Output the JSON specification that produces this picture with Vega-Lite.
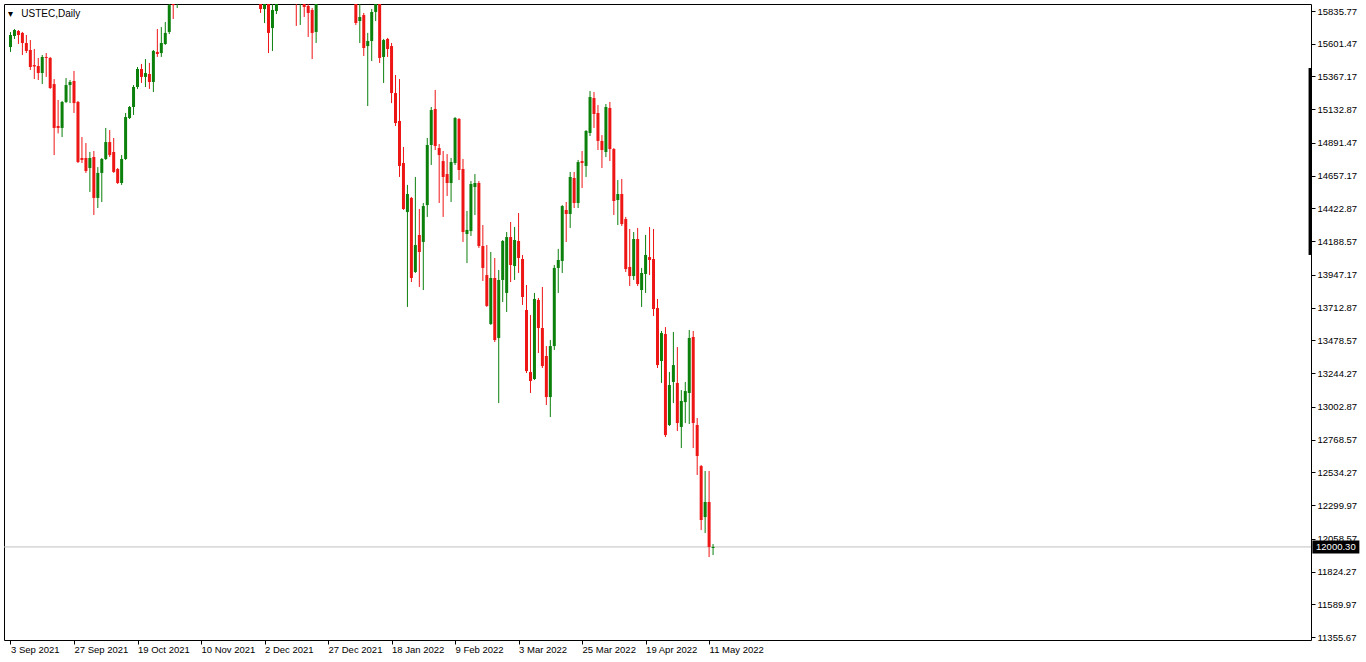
{
"$schema": "https://vega.github.io/schema/vega-lite/v6.json",
"width": 1307, "height": 636,
"autosize": {"type": "none"},
"padding": {"left": 4, "top": 4, "right": 55, "bottom": 22},
"background": "#ffffff",
"title": {"text": "▾\u00a0\u00a0 USTEC,Daily", "anchor": "start", "frame": "group", "offset": -15, "dx": 4, "font": "Liberation Sans", "fontSize": 10, "fontWeight": "normal", "color": "#000000"},
"config": {"view": {"stroke": "#000000", "strokeWidth": 1}, "font": "Liberation Sans", "axis": {"labelOverlap": false, "labelFlush": false, "labelBound": false}},
"datasets": {
"candles": [
{"i":0,"o":15578,"h":15685,"l":15543,"c":15664},
{"i":1,"o":15657,"h":15707,"l":15636,"c":15700},
{"i":2,"o":15693,"h":15700,"l":15600,"c":15664},
{"i":3,"o":15679,"h":15686,"l":15521,"c":15607},
{"i":4,"o":15607,"h":15664,"l":15535,"c":15550},
{"i":5,"o":15557,"h":15628,"l":15414,"c":15435},
{"i":6,"o":15449,"h":15564,"l":15349,"c":15439},
{"i":7,"o":15442,"h":15500,"l":15342,"c":15392},
{"i":8,"o":15392,"h":15521,"l":15313,"c":15507},
{"i":9,"o":15507,"h":15535,"l":15364,"c":15500},
{"i":10,"o":15500,"h":15507,"l":15278,"c":15285},
{"i":11,"o":15313,"h":15349,"l":14805,"c":14999},
{"i":12,"o":15013,"h":15199,"l":14960,"c":14999},
{"i":13,"o":14999,"h":15192,"l":14934,"c":15185},
{"i":14,"o":15185,"h":15356,"l":15177,"c":15306},
{"i":15,"o":15306,"h":15342,"l":15177,"c":15328},
{"i":16,"o":15335,"h":15407,"l":15106,"c":15177},
{"i":17,"o":15185,"h":15192,"l":14748,"c":14755},
{"i":18,"o":14784,"h":14934,"l":14748,"c":14770},
{"i":19,"o":14784,"h":14891,"l":14677,"c":14691},
{"i":20,"o":14712,"h":14827,"l":14541,"c":14784},
{"i":21,"o":14791,"h":14834,"l":14376,"c":14498},
{"i":22,"o":14498,"h":14719,"l":14426,"c":14677},
{"i":23,"o":14677,"h":14784,"l":14469,"c":14777},
{"i":24,"o":14777,"h":14999,"l":14770,"c":14898},
{"i":25,"o":14898,"h":14984,"l":14791,"c":14805},
{"i":26,"o":14827,"h":14927,"l":14677,"c":14684},
{"i":27,"o":14705,"h":14712,"l":14598,"c":14605},
{"i":28,"o":14605,"h":14805,"l":14591,"c":14777},
{"i":29,"o":14777,"h":15106,"l":14770,"c":15077},
{"i":30,"o":15070,"h":15156,"l":15063,"c":15149},
{"i":31,"o":15149,"h":15306,"l":15092,"c":15292},
{"i":32,"o":15292,"h":15435,"l":15278,"c":15421},
{"i":33,"o":15421,"h":15457,"l":15321,"c":15364},
{"i":34,"o":15364,"h":15492,"l":15292,"c":15392},
{"i":35,"o":15385,"h":15464,"l":15278,"c":15328},
{"i":36,"o":15328,"h":15557,"l":15256,"c":15550},
{"i":37,"o":15543,"h":15707,"l":15507,"c":15528},
{"i":38,"o":15535,"h":15721,"l":15507,"c":15607},
{"i":39,"o":15600,"h":15757,"l":15593,"c":15679},
{"i":40,"o":15686,"h":15905,"l":15671,"c":15878},
{"i":41,"o":15960,"h":16010,"l":15779,"c":15878},
{"i":42,"o":15900,"h":16040,"l":15857,"c":16010},
{"i":43,"o":16010,"h":16170,"l":15990,"c":16150},
{"i":44,"o":16150,"h":16340,"l":16120,"c":16320},
{"i":45,"o":16320,"h":16420,"l":16260,"c":16350},
{"i":46,"o":16350,"h":16400,"l":16260,"c":16330},
{"i":47,"o":16330,"h":16380,"l":16160,"c":16210},
{"i":48,"o":16210,"h":16250,"l":15940,"c":15990},
{"i":49,"o":15990,"h":16110,"l":15960,"c":16080},
{"i":50,"o":16080,"h":16270,"l":16060,"c":16250},
{"i":51,"o":16250,"h":16300,"l":16200,"c":16260},
{"i":52,"o":16260,"h":16420,"l":16240,"c":16380},
{"i":53,"o":16380,"h":16440,"l":16340,"c":16370},
{"i":54,"o":16370,"h":16590,"l":16350,"c":16560},
{"i":55,"o":16560,"h":16640,"l":16520,"c":16580},
{"i":56,"o":16580,"h":16760,"l":16350,"c":16380},
{"i":57,"o":16380,"h":16420,"l":16140,"c":16300},
{"i":58,"o":16300,"h":16400,"l":16220,"c":16380},
{"i":59,"o":16380,"h":16440,"l":16360,"c":16420},
{"i":60,"o":16420,"h":16430,"l":15990,"c":16040},
{"i":61,"o":16040,"h":16420,"l":16020,"c":16390},
{"i":62,"o":16390,"h":16470,"l":16060,"c":16140},
{"i":63,"o":16250,"h":16370,"l":15822,"c":15850},
{"i":64,"o":15850,"h":16060,"l":15750,"c":16000},
{"i":65,"o":16010,"h":16070,"l":15535,"c":15679},
{"i":66,"o":15714,"h":15900,"l":15550,"c":15843},
{"i":67,"o":15836,"h":16320,"l":15814,"c":16300},
{"i":68,"o":16300,"h":16390,"l":16260,"c":16360},
{"i":69,"o":16360,"h":16380,"l":16060,"c":16080},
{"i":70,"o":16080,"h":16310,"l":16050,"c":16290},
{"i":71,"o":16290,"h":16330,"l":16120,"c":16150},
{"i":72,"o":16150,"h":16170,"l":15729,"c":15950},
{"i":73,"o":15950,"h":16330,"l":15736,"c":16300},
{"i":74,"o":16300,"h":16370,"l":15793,"c":15865},
{"i":75,"o":15872,"h":15950,"l":15650,"c":15822},
{"i":76,"o":15843,"h":15857,"l":15492,"c":15679},
{"i":77,"o":15686,"h":15990,"l":15607,"c":15960},
{"i":78,"o":15960,"h":16150,"l":15920,"c":16130},
{"i":79,"o":16130,"h":16260,"l":16100,"c":16220},
{"i":80,"o":16220,"h":16520,"l":16200,"c":16500},
{"i":81,"o":16500,"h":16580,"l":16400,"c":16440},
{"i":82,"o":16440,"h":16500,"l":16360,"c":16420},
{"i":83,"o":16420,"h":16500,"l":16340,"c":16380},
{"i":84,"o":16380,"h":16410,"l":16300,"c":16320},
{"i":85,"o":16320,"h":16520,"l":16280,"c":16500},
{"i":86,"o":16500,"h":16590,"l":16150,"c":16280},
{"i":87,"o":16280,"h":16310,"l":15736,"c":15750},
{"i":88,"o":15764,"h":15950,"l":15607,"c":15793},
{"i":89,"o":15807,"h":15822,"l":15514,"c":15571},
{"i":90,"o":15585,"h":15679,"l":15156,"c":15621},
{"i":91,"o":15621,"h":15850,"l":15478,"c":15829},
{"i":92,"o":15829,"h":15980,"l":15764,"c":15930},
{"i":93,"o":15960,"h":16000,"l":15464,"c":15500},
{"i":94,"o":15507,"h":15636,"l":15321,"c":15628},
{"i":95,"o":15636,"h":15643,"l":15507,"c":15564},
{"i":96,"o":15585,"h":15607,"l":15177,"c":15249},
{"i":97,"o":15249,"h":15378,"l":15013,"c":15034},
{"i":98,"o":15049,"h":15349,"l":14648,"c":14727},
{"i":99,"o":14748,"h":14863,"l":14412,"c":14419},
{"i":100,"o":14397,"h":14591,"l":13718,"c":14526},
{"i":101,"o":14498,"h":14505,"l":13896,"c":13925},
{"i":102,"o":13968,"h":14648,"l":13961,"c":14161},
{"i":103,"o":14233,"h":14419,"l":13861,"c":14111},
{"i":104,"o":14183,"h":14462,"l":13839,"c":14440},
{"i":105,"o":14447,"h":14927,"l":14362,"c":14877},
{"i":106,"o":14877,"h":15149,"l":14734,"c":15127},
{"i":107,"o":15135,"h":15271,"l":14841,"c":14870},
{"i":108,"o":14855,"h":14884,"l":14462,"c":14805},
{"i":109,"o":14762,"h":14834,"l":14362,"c":14648},
{"i":110,"o":14669,"h":14812,"l":14512,"c":14605},
{"i":111,"o":14605,"h":14784,"l":14469,"c":14755},
{"i":112,"o":14748,"h":15077,"l":14734,"c":15070},
{"i":113,"o":15063,"h":15070,"l":14626,"c":14698},
{"i":114,"o":14705,"h":14777,"l":14183,"c":14254},
{"i":115,"o":14240,"h":14405,"l":14032,"c":14269},
{"i":116,"o":14261,"h":14619,"l":14226,"c":14598},
{"i":117,"o":14576,"h":14669,"l":14376,"c":14605},
{"i":118,"o":14605,"h":14619,"l":14140,"c":14154},
{"i":119,"o":14154,"h":14304,"l":13904,"c":13997},
{"i":120,"o":13946,"h":14161,"l":13718,"c":13725},
{"i":121,"o":13596,"h":14111,"l":13589,"c":13925},
{"i":122,"o":13925,"h":14068,"l":13467,"c":13481},
{"i":123,"o":13496,"h":13982,"l":13030,"c":13911},
{"i":124,"o":13911,"h":14197,"l":13753,"c":14190},
{"i":125,"o":13818,"h":14254,"l":13682,"c":14218},
{"i":126,"o":14218,"h":14326,"l":13896,"c":14018},
{"i":127,"o":14011,"h":14290,"l":13911,"c":14197},
{"i":128,"o":14190,"h":14390,"l":13961,"c":14068},
{"i":129,"o":14061,"h":14090,"l":13732,"c":13789},
{"i":130,"o":13696,"h":13875,"l":13245,"c":13259},
{"i":131,"o":13252,"h":13660,"l":13102,"c":13188},
{"i":132,"o":13202,"h":13818,"l":13195,"c":13775},
{"i":133,"o":13768,"h":13782,"l":13388,"c":13567},
{"i":134,"o":13567,"h":13861,"l":13281,"c":13295},
{"i":135,"o":13367,"h":13438,"l":13016,"c":13073},
{"i":136,"o":13073,"h":13481,"l":12930,"c":13438},
{"i":137,"o":13438,"h":14018,"l":13410,"c":13997},
{"i":138,"o":13997,"h":14133,"l":13818,"c":14054},
{"i":139,"o":14047,"h":14447,"l":13961,"c":14440},
{"i":140,"o":14412,"h":14469,"l":14183,"c":14383},
{"i":141,"o":14383,"h":14684,"l":14283,"c":14648},
{"i":142,"o":14641,"h":14684,"l":14426,"c":14462},
{"i":143,"o":14462,"h":14770,"l":14426,"c":14755},
{"i":144,"o":14762,"h":14834,"l":14569,"c":14748},
{"i":145,"o":14727,"h":14984,"l":14648,"c":14977},
{"i":146,"o":14963,"h":15263,"l":14941,"c":15220},
{"i":147,"o":15213,"h":15256,"l":14999,"c":15099},
{"i":148,"o":15106,"h":15163,"l":14841,"c":14906},
{"i":149,"o":14906,"h":14948,"l":14712,"c":14841},
{"i":150,"o":14827,"h":15170,"l":14791,"c":15149},
{"i":151,"o":15142,"h":15185,"l":14762,"c":14848},
{"i":152,"o":14848,"h":14855,"l":14376,"c":14476},
{"i":153,"o":14483,"h":14626,"l":14304,"c":14526},
{"i":154,"o":14526,"h":14634,"l":14297,"c":14311},
{"i":155,"o":14347,"h":14362,"l":13968,"c":13989},
{"i":156,"o":14004,"h":14276,"l":13868,"c":13939},
{"i":157,"o":13939,"h":14254,"l":13911,"c":14204},
{"i":158,"o":14204,"h":14283,"l":13868,"c":13882},
{"i":159,"o":13839,"h":13997,"l":13718,"c":13961},
{"i":160,"o":13954,"h":14233,"l":13818,"c":14090},
{"i":161,"o":14075,"h":14290,"l":13946,"c":14054},
{"i":162,"o":14061,"h":14276,"l":13653,"c":13703},
{"i":163,"o":13710,"h":13775,"l":13281,"c":13302},
{"i":164,"o":13331,"h":13546,"l":13174,"c":13531},
{"i":165,"o":13524,"h":13574,"l":12787,"c":12801},
{"i":166,"o":12873,"h":13252,"l":12866,"c":13159},
{"i":167,"o":13181,"h":13539,"l":13030,"c":13302},
{"i":168,"o":13174,"h":13431,"l":12830,"c":12887},
{"i":169,"o":12859,"h":13123,"l":12708,"c":13045},
{"i":170,"o":13037,"h":13181,"l":12887,"c":13116},
{"i":171,"o":13102,"h":13553,"l":12880,"c":13496},
{"i":172,"o":13503,"h":13546,"l":12708,"c":12887},
{"i":173,"o":12873,"h":12923,"l":12515,"c":12651},
{"i":174,"o":12579,"h":12587,"l":12121,"c":12193},
{"i":175,"o":12214,"h":12544,"l":12100,"c":12322},
{"i":176,"o":12322,"h":12544,"l":11928,"c":12000},
{"i":177,"o":11993,"h":12021,"l":11942,"c":12000.3}
],
"last": [{"p": 12000.30, "tag": "12000.30"}],
"scalebar": [{"top": 15428, "bot": 14090}]
},
"layer": [
{"data": {"name": "last"},
 "mark": {"type": "rule", "color": "#c0c0c0", "strokeWidth": 1},
 "encoding": {
  "y": {"field": "p", "type": "quantitative",
   "scale": {"domain": [11334.2, 15886.05], "nice": false, "zero": false},
   "axis": {"orient": "right", "title": null, "grid": false, "domain": false, "tickCount": 60,
    "values": [15835.77,15601.47,15367.17,15132.87,14891.47,14657.17,14422.87,14188.57,13947.17,13712.87,13478.57,13244.27,13002.87,12768.57,12534.27,12299.97,12058.57,11824.27,11589.97,11355.67],
    "format": ".2f", "tickSize": 4, "tickColor": "#000000", "tickWidth": 1,
    "labelColor": "#000000", "labelFont": "Liberation Sans", "labelFontSize": 9.5, "labelPadding": 2,
    "labelFlush": false, "labelOverlap": false, "labelBound": false, "labelSeparation": 0}}}},
{"data": {"name": "candles"},
 "mark": {"type": "rule", "clip": true, "strokeWidth": 1},
 "encoding": {
  "x": {"field": "i", "type": "quantitative",
   "scale": {"domain": [-0.375, 326.375], "nice": false, "zero": false},
   "axis": {"orient": "bottom", "title": null, "grid": false, "domain": false, "tickCount": 60,
    "values": [0,16,32,48,64,80,96,112,128,144,160,176],
    "labelExpr": "['3 Sep 2021','27 Sep 2021','19 Oct 2021','10 Nov 2021','2 Dec 2021','27 Dec 2021','18 Jan 2022','9 Feb 2022','3 Mar 2022','25 Mar 2022','19 Apr 2022','11 May 2022'][round(datum.value/16)]",
    "tickSize": 4, "tickColor": "#000000", "tickWidth": 1,
    "labelAlign": "left", "labelBaseline": "top", "labelPadding": 0, "labelDx": -1,
    "labelColor": "#000000", "labelFont": "Liberation Sans", "labelFontSize": 9.5,
    "labelFlush": false, "labelOverlap": false, "labelBound": false}},
  "y": {"field": "h", "type": "quantitative", "scale": {"domain": [11334.2, 15886.05], "nice": false, "zero": false}},
  "y2": {"field": "l"},
  "color": {"condition": {"test": "datum.c >= datum.o", "value": "#0b800b"}, "value": "#ee1515"}}},
{"data": {"name": "candles"},
 "mark": {"type": "bar", "clip": true, "width": 3},
 "encoding": {
  "x": {"field": "i", "type": "quantitative", "scale": {"domain": [-0.375, 326.375], "nice": false, "zero": false}},
  "y": {"field": "o", "type": "quantitative", "scale": {"domain": [11334.2, 15886.05], "nice": false, "zero": false}},
  "y2": {"field": "c"},
  "color": {"condition": {"test": "datum.c >= datum.o", "value": "#0b800b"}, "value": "#ee1515"}}},
{"data": {"name": "scalebar"},
 "mark": {"type": "rule", "strokeWidth": 3, "color": "#000000"},
 "encoding": {
  "x": {"datum": 327.4, "type": "quantitative", "scale": {"domain": [-0.375, 326.375], "nice": false, "zero": false}},
  "y": {"field": "top", "type": "quantitative", "scale": {"domain": [11334.2, 15886.05], "nice": false, "zero": false}},
  "y2": {"field": "bot"}}},
{"data": {"name": "last"},
 "mark": {"type": "tick", "orient": "horizontal", "color": "#000000", "thickness": 13, "size": 47, "opacity": 1},
 "encoding": {
  "x": {"datum": 333.9, "type": "quantitative", "scale": {"domain": [-0.375, 326.375], "nice": false, "zero": false}},
  "y": {"field": "p", "type": "quantitative", "scale": {"domain": [11334.2, 15886.05], "nice": false, "zero": false}}}},
{"data": {"name": "last"},
 "mark": {"type": "text", "color": "#ffffff", "font": "Liberation Sans", "fontSize": 9.5, "align": "center", "baseline": "middle"},
 "encoding": {
  "x": {"datum": 333.9, "type": "quantitative", "scale": {"domain": [-0.375, 326.375], "nice": false, "zero": false}},
  "y": {"field": "p", "type": "quantitative", "scale": {"domain": [11334.2, 15886.05], "nice": false, "zero": false}},
  "text": {"field": "tag"}}}
]
}
